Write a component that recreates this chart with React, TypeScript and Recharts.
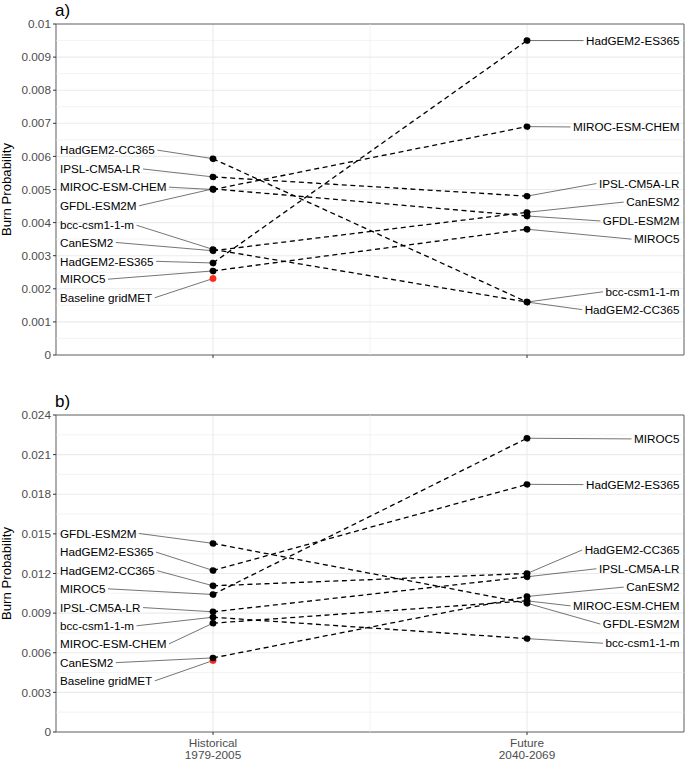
import React from 'react';
import { LineChart, Line, XAxis, YAxis, CartesianGrid, ReferenceLine, ReferenceArea } from 'recharts';

// ---------- data ----------
const MODELS = ['HadGEM2-CC365', 'IPSL-CM5A-LR', 'MIROC-ESM-CHEM', 'GFDL-ESM2M', 'bcc-csm1-1-m', 'CanESM2', 'HadGEM2-ES365', 'MIROC5'];
const BASELINE_NAME = 'Baseline gridMET';
const PERIOD_LABELS = [['Historical', '1979-2005'], ['Future', '2040-2069']];

// Panel a
const histA = [0.00593, 0.00538, 0.00500, 0.00502, 0.00319, 0.00315, 0.00278, 0.00254];
const futA = [0.00160, 0.00480, 0.00690, 0.00420, 0.00160, 0.00431, 0.00950, 0.00380];
const baseA = 0.00231;
const yTicksA = [0, 0.001, 0.002, 0.003, 0.004, 0.005, 0.006, 0.007, 0.008, 0.009, 0.01];
// repelled label anchors (data units)
const leftLabA = [0.00619, 0.00562, 0.00507, 0.00451, 0.00392, 0.00340, 0.00283, 0.00229];
const baseLabA = 0.00173;
const rightLabA = [0.00137, 0.00518, 0.00689, 0.00405, 0.00191, 0.00462, 0.00950, 0.00350];

// Panel b
const histB = [0.01107, 0.00910, 0.00824, 0.01428, 0.00869, 0.00561, 0.01223, 0.01041];
const futB = [0.01200, 0.01175, 0.00993, 0.00975, 0.00707, 0.01026, 0.01875, 0.02224];
const baseB = 0.00541;
const yTicksB = [0, 0.003, 0.006, 0.009, 0.012, 0.015, 0.018, 0.021, 0.024];
const leftLabB = [0.01221, 0.00942, 0.00667, 0.01503, 0.00804, 0.00525, 0.01362, 0.01084];
const baseLabB = 0.00387;
const rightLabB = [0.01378, 0.01236, 0.00955, 0.00817, 0.00672, 0.01097, 0.01873, 0.02219];

// ---------- layout ----------
const W = 685;
const Y_AXIS_W = 56;
const MARGIN_R = 1;
const PLOT_W = W - Y_AXIS_W - MARGIN_R;
const X_DOMAIN: [number, number] = [0.5, 2.5];
const PPU = PLOT_W / (X_DOMAIN[1] - X_DOMAIN[0]);
const FONT = '"Liberation Sans", Arial, Helvetica, sans-serif';
const LABEL_FS = 11.7;
const TICK_FS = 11.8;
const TICK_COL = '#4d4d4d';
const GRID_COL = '#ebebeb';

let ctx: CanvasRenderingContext2D | null = null;
function textW(t: string): number {
  if (!ctx) {
    const c = document.createElement('canvas');
    ctx = c.getContext('2d');
  }
  if (!ctx) return t.length * 6.5;
  ctx.font = `${LABEL_FS}px ${FONT}`;
  return ctx.measureText(t).width;
}

const fmt = (v: number) => String(+v.toFixed(4));

function minorOf(ticks: number[]) {
  const out: number[] = [];
  for (let i = 0; i < ticks.length - 1; i++) out.push((ticks[i] + ticks[i + 1]) / 2);
  return out;
}

type PanelProps = {
  title: string;
  hist: number[];
  fut: number[];
  base: number;
  leftLab: number[];
  baseLab: number;
  rightLab: number[];
  yTicks: number[];
  height: number;
  marginTop: number;
  xAxisHeight: number;
  showX: boolean;
};

const XTick = (props: any) => {
  const { x, y, payload } = props;
  const lines = PERIOD_LABELS[Math.round(payload.value) - 1] || [];
  return (
    <text x={x} y={y + 10} textAnchor="middle" fill={TICK_COL} fontSize={TICK_FS} fontFamily={FONT}>
      {lines.map((l, i) => (
        <tspan key={i} x={x} dy={i === 0 ? 0 : 12.2}>{l}</tspan>
      ))}
    </text>
  );
};
const EmptyTick = () => <g />;

function Panel(p: PanelProps) {
  const yMax = p.yTicks[p.yTicks.length - 1];
  const minor = minorOf(p.yTicks);
  const leftStart = X_DOMAIN[0] + 4 / PPU;
  const rightEnd = X_DOMAIN[1] - 4.5 / PPU;

  const leaders: any[] = [];
  const addLeft = (name: string, v: number, lab: number, key: string) => {
    const w = textW(name);
    const x0 = leftStart + (w + 2.5) / PPU;
    leaders.push({
      key,
      data: [{ x: x0, [key]: lab }, { x: 1, [key]: v }],
      labelIdx: 0,
      anchor: 'end',
      dx: -2.5,
      name,
    });
  };
  const addRight = (name: string, v: number, lab: number, key: string) => {
    const w = textW(name);
    const x1 = rightEnd - (w + 2.5) / PPU;
    leaders.push({
      key,
      data: [{ x: 2, [key]: v }, { x: x1, [key]: lab }],
      labelIdx: 1,
      anchor: 'start',
      dx: 2.5,
      name,
    });
  };
  MODELS.forEach((m, i) => {
    addLeft(m, p.hist[i], p.leftLab[i], `L_${i}`);
    addRight(m, p.fut[i], p.rightLab[i], `R_${i}`);
  });
  addLeft(BASELINE_NAME, p.base, p.baseLab, 'L_base');

  const plotTop = p.marginTop;
  const plotBottom = p.height - p.xAxisHeight;

  return (
    <div style={{ position: 'relative', width: W, height: p.height }}>
      <LineChart
        width={W}
        height={p.height}
        margin={{ top: p.marginTop, right: MARGIN_R, left: 0, bottom: 0 }}
      >
        <CartesianGrid stroke={GRID_COL} strokeWidth={1.1} horizontal={true} vertical={true} />
        {minor.map((v) => (
          <ReferenceLine key={`mh${v}`} y={v} stroke={GRID_COL} strokeWidth={0.6} />
        ))}
        <ReferenceLine x={1.5} stroke={GRID_COL} strokeWidth={0.6} />
        <XAxis
          type="number"
          dataKey="x"
          domain={X_DOMAIN}
          ticks={[1, 2]}
          allowDataOverflow
          height={p.xAxisHeight}
          axisLine={false}
          tickLine={{ stroke: '#333', strokeWidth: 1 }}
          tickSize={3}
          tick={p.showX ? <XTick /> : <EmptyTick />}
          interval={0}
        />
        <YAxis
          type="number"
          domain={[0, yMax]}
          ticks={p.yTicks}
          allowDataOverflow
          width={Y_AXIS_W}
          axisLine={false}
          tickLine={{ stroke: '#333', strokeWidth: 1 }}
          tickSize={3}
          tickMargin={2}
          tickFormatter={fmt}
          tick={{ fill: TICK_COL, fontSize: TICK_FS, fontFamily: FONT }}
          interval={0}
        />
        <ReferenceArea x1={X_DOMAIN[0]} x2={X_DOMAIN[1]} y1={0} y2={yMax} fill="none" stroke="#666" strokeWidth={1} ifOverflow="visible" />
        {leaders.map((l) => (
          <Line
            key={l.key}
            data={l.data}
            dataKey={l.key}
            type="linear"
            stroke="#3a3a3a"
            strokeWidth={0.7}
            dot={false}
            activeDot={false}
            isAnimationActive={false}
            label={(lp: any) => {
              const idx = lp.index;
              if (idx !== l.labelIdx) return <g key={`${l.key}-e${idx}`} />;
              const px = lp.x ?? lp.viewBox?.x;
              const py = lp.y ?? lp.viewBox?.y;
              return (
                <text
                  key={`${l.key}-t`}
                  x={px + l.dx}
                  y={py}
                  dy="0.36em"
                  textAnchor={l.anchor}
                  fontSize={LABEL_FS}
                  fontFamily={FONT}
                  fill="#000"
                >
                  {l.name}
                </text>
              );
            }}
          />
        ))}
        <Line
          key="base"
          data={[{ x: 1, base: p.base }]}
          dataKey="base"
          stroke="none"
          dot={{ r: 3.2, fill: '#ff2a1a', stroke: '#ff2a1a', strokeWidth: 0.5 }}
          activeDot={false}
          isAnimationActive={false}
        />
        {MODELS.map((m, i) => (
          <Line
            key={m}
            data={[{ x: 1, [`m${i}`]: p.hist[i] }, { x: 2, [`m${i}`]: p.fut[i] }]}
            dataKey={`m${i}`}
            type="linear"
            stroke="#000"
            strokeWidth={1.3}
            strokeDasharray="5 3.6"
            dot={{ r: 3.2, fill: '#000', stroke: '#000', strokeWidth: 0.5 }}
            activeDot={false}
            isAnimationActive={false}
          />
        ))}
      </LineChart>
      <svg
        width={W}
        height={p.height}
        style={{ position: 'absolute', left: 0, top: 0, pointerEvents: 'none' }}
      >
        <text x={Y_AXIS_W - 1} y={plotTop - 8} fontSize={17} fontFamily={FONT} fill="#000">
          {p.title}
        </text>
        <text
          x={10.5}
          y={(plotTop + plotBottom) / 2}
          transform={`rotate(-90, 10.5, ${(plotTop + plotBottom) / 2})`}
          textAnchor="middle"
          fontSize={13.2}
          fontFamily={FONT}
          fill="#000"
        >
          Burn Probability
        </text>
      </svg>
    </div>
  );
}

export default function App() {
  return (
    <div style={{ position: 'absolute', left: 0, top: 0, width: W, height: 762, background: '#fff', fontFamily: FONT }}>
      <Panel
        title="a)"
        hist={histA}
        fut={futA}
        base={baseA}
        leftLab={leftLabA}
        baseLab={baseLabA}
        rightLab={rightLabA}
        yTicks={yTicksA}
        height={370}
        marginTop={24}
        xAxisHeight={15}
        showX={false}
      />
      <Panel
        title="b)"
        hist={histB}
        fut={futB}
        base={baseB}
        leftLab={leftLabB}
        baseLab={baseLabB}
        rightLab={rightLabB}
        yTicks={yTicksB}
        height={392}
        marginTop={45}
        xAxisHeight={30}
        showX={true}
      />
    </div>
  );
}
